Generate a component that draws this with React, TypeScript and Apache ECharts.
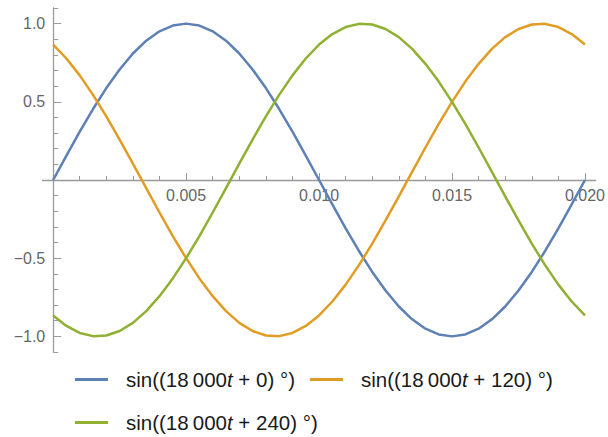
import React, { useEffect, useRef } from "react";
import * as echarts from "echarts";

// time samples (s)
const T = [
  0, 0.0005, 0.001, 0.0015, 0.002, 0.0025, 0.003, 0.0035, 0.004, 0.0045, 0.005,
  0.0055, 0.006, 0.0065, 0.007, 0.0075, 0.008, 0.0085, 0.009, 0.0095, 0.01,
  0.0105, 0.011, 0.0115, 0.012, 0.0125, 0.013, 0.0135, 0.014, 0.0145, 0.015,
  0.0155, 0.016, 0.0165, 0.017, 0.0175, 0.018, 0.0185, 0.019, 0.0195, 0.02,
];

const SERIES_NAMES = [
  "sin((18\u2009000t + 0) °)",
  "sin((18\u2009000t + 120) °)",
  "sin((18\u2009000t + 240) °)",
];

const V0 = [
  0, 0.1564, 0.309, 0.454, 0.5878, 0.7071, 0.809, 0.891, 0.9511, 0.9877, 1,
  0.9877, 0.9511, 0.891, 0.809, 0.7071, 0.5878, 0.454, 0.309, 0.1564, 0,
  -0.1564, -0.309, -0.454, -0.5878, -0.7071, -0.809, -0.891, -0.9511, -0.9877, -1,
  -0.9877, -0.9511, -0.891, -0.809, -0.7071, -0.5878, -0.454, -0.309, -0.1564, 0,
];

const V120 = [
  0.866, 0.7771, 0.6691, 0.5446, 0.4067, 0.2588, 0.1045, -0.0523, -0.2079, -0.3584, -0.5,
  -0.6293, -0.7431, -0.8387, -0.9135, -0.9659, -0.9945, -0.9986, -0.9781, -0.9336, -0.866,
  -0.7771, -0.6691, -0.5446, -0.4067, -0.2588, -0.1045, 0.0523, 0.2079, 0.3584, 0.5,
  0.6293, 0.7431, 0.8387, 0.9135, 0.9659, 0.9945, 0.9986, 0.9781, 0.9336, 0.866,
];

const V240 = [
  -0.866, -0.9336, -0.9781, -0.9986, -0.9945, -0.9659, -0.9135, -0.8387, -0.7431, -0.6293, -0.5,
  -0.3584, -0.2079, -0.0523, 0.1045, 0.2588, 0.4067, 0.5446, 0.6691, 0.7771, 0.866,
  0.9336, 0.9781, 0.9986, 0.9945, 0.9659, 0.9135, 0.8387, 0.7431, 0.6293, 0.5,
  0.3584, 0.2079, 0.0523, -0.1045, -0.2588, -0.4067, -0.5446, -0.6691, -0.7771, -0.866,
];

const COLORS = ["#5E81B5", "#E19C24", "#8FB032"];

const X_MIN = -0.0004;
const X_MAX = 0.0204;
const Y_MIN = -1.1;
const Y_MAX = 1.1;

const X_MAJOR = [0.005, 0.01, 0.015, 0.02];
const X_MINOR = [
  0.001, 0.002, 0.003, 0.004, 0.006, 0.007, 0.008, 0.009, 0.011, 0.012, 0.013,
  0.014, 0.016, 0.017, 0.018, 0.019,
];
const Y_MAJOR = [-1, -0.5, 0.5, 1];
const Y_MINOR = [
  -1.1, -0.9, -0.8, -0.7, -0.6, -0.4, -0.3, -0.2, -0.1, 0.1, 0.2, 0.3, 0.4, 0.6,
  0.7, 0.8, 0.9, 1.1,
];

const FONT = "'Liberation Sans', Arial, sans-serif";
const AXIS_COLOR = "#9a9a9a";
const LABEL_COLOR = "#666666";

const W = 608;
const H = 437;
const GRID = { left: 42.5, right: 6.5, top: 8, bottom: 85 };

export default function App() {
  const ref = useRef<HTMLDivElement>(null);

  useEffect(() => {
    if (!ref.current) return;
    const chart = echarts.init(ref.current, null, { renderer: "svg" });
    const values = [V0, V120, V240];

    // move the axes so that they cross at the origin (as in the original)
    const gw = W - GRID.left - GRID.right;
    const gh = H - GRID.top - GRID.bottom;
    const xOffset = -(gh * (0 - Y_MIN)) / (Y_MAX - Y_MIN);
    const yOffset = -(gw * (0 - X_MIN)) / (X_MAX - X_MIN);

    const legendText = {
      rich: {
        a: { fontSize: 20.5, color: "#1a1a1a", fontFamily: FONT },
        i: { fontSize: 20.5, color: "#1a1a1a", fontFamily: FONT, fontStyle: "italic" },
      },
      padding: [0, 0, 0, 13],
    };
    const fmt = (name: string) => {
      const i = name.indexOf("t");
      return `{a|${name.slice(0, i)}}{i|t}{a|${name.slice(i + 1)}}`;
    };
    const legendCommon = {
      left: 75,
      orient: "horizontal",
      padding: 0,
      icon: "rect",
      itemWidth: 33,
      itemHeight: 3,
      itemGap: 15,
      formatter: fmt,
      textStyle: legendText,
    };

    const xBase = {
      type: "value",
      position: "bottom",
      min: X_MIN,
      max: X_MAX,
      offset: xOffset,
      splitLine: { show: false },
    };
    const yBase = {
      type: "value",
      position: "left",
      min: Y_MIN,
      max: Y_MAX,
      offset: yOffset,
      splitLine: { show: false },
    };

    const option: any = {
      animation: false,
      backgroundColor: "#ffffff",
      textStyle: { fontFamily: FONT },
      grid: { ...GRID, containLabel: false },
      legend: [
        { ...legendCommon, top: 369, data: SERIES_NAMES.slice(0, 2) },
        { ...legendCommon, top: 412, data: SERIES_NAMES.slice(2) },
      ],
      xAxis: [
        {
          ...xBase,
          axisLine: { show: true, onZero: false, lineStyle: { color: AXIS_COLOR, width: 1.3 } },
          axisTick: {
            show: true,
            inside: true,
            length: 4,
            customValues: X_MINOR,
            lineStyle: { color: AXIS_COLOR, width: 1 },
          },
          axisLabel: {
            show: true,
            customValues: X_MAJOR,
            margin: 7,
            fontSize: 16,
            color: LABEL_COLOR,
            fontFamily: FONT,
            formatter: (v: number) => v.toFixed(3),
          },
        },
        {
          ...xBase,
          axisLine: { show: false, onZero: false },
          axisTick: {
            show: true,
            inside: true,
            length: 7,
            customValues: X_MAJOR,
            lineStyle: { color: AXIS_COLOR, width: 1 },
          },
          axisLabel: { show: false },
        },
      ],
      yAxis: [
        {
          ...yBase,
          axisLine: { show: true, onZero: false, lineStyle: { color: AXIS_COLOR, width: 1.3 } },
          axisTick: {
            show: true,
            inside: true,
            length: 5,
            customValues: Y_MINOR,
            lineStyle: { color: AXIS_COLOR, width: 1 },
          },
          axisLabel: {
            show: true,
            customValues: Y_MAJOR,
            margin: 8,
            fontSize: 16,
            color: LABEL_COLOR,
            fontFamily: FONT,
            formatter: (v: number) => (v < 0 ? "\u2212" + Math.abs(v).toFixed(1) : v.toFixed(1)),
          },
        },
        {
          ...yBase,
          axisLine: { show: false, onZero: false },
          axisTick: {
            show: true,
            inside: true,
            length: 8,
            customValues: Y_MAJOR,
            lineStyle: { color: AXIS_COLOR, width: 1 },
          },
          axisLabel: { show: false },
        },
      ],
      series: SERIES_NAMES.map((name, s) => ({
        name,
        type: "line",
        xAxisIndex: 0,
        yAxisIndex: 0,
        showSymbol: false,
        symbol: "none",
        smooth: false,
        color: COLORS[s],
        lineStyle: { color: COLORS[s], width: 2.5, join: "round" },
        data: T.map((t, i) => [t, values[s][i]]),
      })),
    };

    chart.setOption(option);
    return () => chart.dispose();
  }, []);

  return (
    <div
      ref={ref}
      style={{ position: "absolute", left: 0, top: 0, width: W, height: H }}
    />
  );
}
